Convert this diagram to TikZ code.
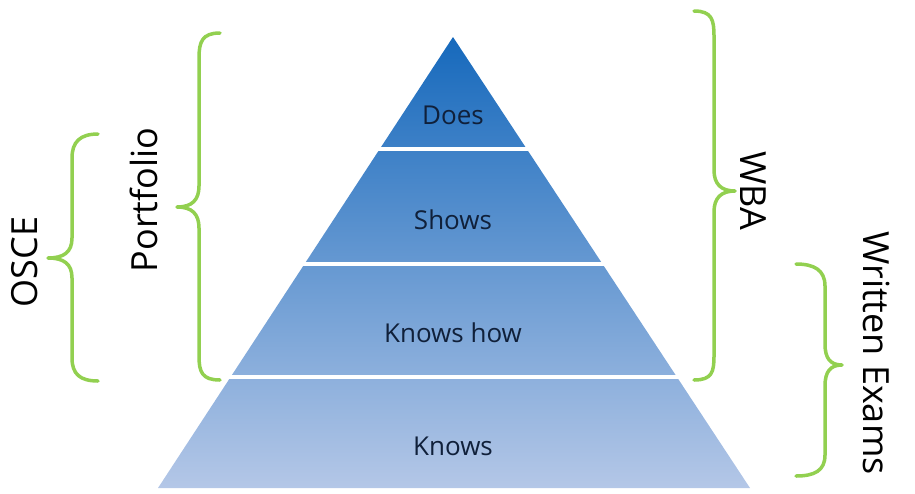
\documentclass[tikz,border=0pt]{standalone}
\usepackage{fontspec}
\setmainfont{Open Sans}
\definecolor{topblue}{HTML}{1669BC}
\definecolor{midblue}{HTML}{5B9BD5}
\definecolor{botblue}{HTML}{B4C7E7}
\definecolor{bracegreen}{HTML}{92D050}
\definecolor{labeltext}{HTML}{10203A}
\tikzset{
  brace/.style={draw=bracegreen, line width=3.5pt, line cap=round, line join=round},
  levellabel/.style={font=\fontsize{26}{30}\selectfont, text=labeltext, anchor=base, inner sep=0pt},
  sidelabel/.style={font=\fontsize{36}{42}\selectfont, text=black, anchor=base, inner sep=0pt},
  gapline/.style={draw=white, line width=4pt}
}
\begin{document}
\begin{tikzpicture}[x=1pt,y=-1pt]
\useasboundingbox (0,0) rectangle (915,493);
% pyramid
\coordinate (apex) at (453,37);
\coordinate (bl) at (158,488);
\coordinate (br) at (750,488);
\shade[top color=topblue, middle color=midblue, bottom color=botblue] (apex) -- (bl) -- (br) -- cycle;
% separators
\coordinate (g1l) at (378,149); \coordinate (g1r) at (528,149);
\coordinate (g2l) at (302,264); \coordinate (g2r) at (604,264);
\coordinate (g3l) at (227,377); \coordinate (g3r) at (679,377);
\draw[gapline] (g1l) -- (g1r);
\draw[gapline] (g2l) -- (g2r);
\draw[gapline] (g3l) -- (g3r);
% level labels
\node[levellabel] (does) at (453,124) {Does};
\node[levellabel] (shows) at (453,229) {Shows};
\node[levellabel] (knowshow) at (453,342) {Knows how};
\node[levellabel] (knows) at (453,455) {Knows};
% OSCE brace
\draw[brace] (98,134) .. controls (80,134) and (72,142) .. (72,158) -- (72,238)
  .. controls (72,252) and (64,258) .. (48,258)
  .. controls (64,258) and (72,264) .. (72,278) -- (72,358)
  .. controls (72,374) and (80,381) .. (98,381);
\node[sidelabel, rotate=90] (osce) at (37,262) {OSCE};
% Portfolio brace
\draw[brace] (220,33) .. controls (202,33) and (199,42) .. (199,58) -- (199,186)
  .. controls (199,200) and (192,207) .. (177,207)
  .. controls (192,207) and (199,214) .. (199,228) -- (199,356)
  .. controls (199,372) and (202,380) .. (220,380);
\node[sidelabel, rotate=90] (portfolio) at (157,200) {Portfolio};
% WBA brace
\draw[brace] (694,11) .. controls (712,11) and (714,20) .. (714,36) -- (714,170)
  .. controls (714,184) and (721,191) .. (735,191)
  .. controls (721,191) and (714,198) .. (714,212) -- (714,356)
  .. controls (714,372) and (712,380) .. (694,380);
\node[sidelabel, rotate=-90] (wba) at (740,191) {WBA};
% Written Exams brace
\draw[brace] (796,264) .. controls (814,264) and (825,270) .. (825,286) -- (825,344)
  .. controls (825,358) and (830,365) .. (842,365)
  .. controls (830,365) and (825,372) .. (825,386) -- (825,455)
  .. controls (825,471) and (814,476) .. (796,476);
\node[sidelabel, rotate=-90] (written) at (863,353) {Written Exams};
\end{tikzpicture}
\end{document}
